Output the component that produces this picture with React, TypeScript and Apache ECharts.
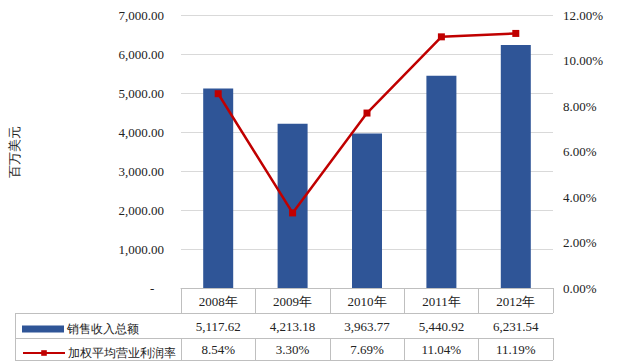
import React, { useEffect, useRef } from "react";
import * as echarts from "echarts";

const years = ["2008年", "2009年", "2010年", "2011年", "2012年"];
const revenue = [5117.62, 4213.18, 3963.77, 5440.92, 6231.54];
const margin = [8.54, 3.3, 7.69, 11.04, 11.19];
const revenueName = "销售收入总额";
const marginName = "加权平均营业利润率";
const leftUnit = "百万美元";

const FONT = "serif";
const fmtMoney = (v: number) =>
  v.toLocaleString("en-US", { minimumFractionDigits: 2, maximumFractionDigits: 2 });
const fmtPct = (v: number) => v.toFixed(2) + "%";

export default function App() {
  const ref = useRef<HTMLDivElement>(null);
  useEffect(() => {
    if (!ref.current) return;
    const chart = echarts.init(ref.current, undefined, { renderer: "svg" });
    const gridLeft = 180;
    const gridRight = 553;
    const gridBottomY = 288;
    const lineColor = "#BFBFBF";
    const legendText = { fontFamily: FONT, fontSize: 12, color: "#222", padding: [0, 0, 0, -2] };
    chart.setOption({
      animation: false,
      textStyle: { fontFamily: FONT },
      grid: { left: gridLeft, right: 617 - gridRight, top: 15, bottom: 364 - gridBottomY },
      legend: [
        {
          left: 17,
          top: 318,
          itemWidth: 42,
          itemHeight: 7,
          textStyle: legendText,
          data: [{ name: revenueName, icon: "rect" }],
        },
        {
          left: 17,
          top: 342,
          itemWidth: 42,
          itemHeight: 7,
          textStyle: legendText,
          data: [{ name: marginName }],
        },
      ],
      xAxis: [
        {
          type: "category",
          data: years,
          position: "bottom",
          axisLine: { show: true, lineStyle: { color: lineColor } },
          axisTick: { show: true, length: 25, lineStyle: { color: lineColor } },
          axisLabel: { margin: 7, fontSize: 13, color: "#222", fontFamily: FONT },
        },
        {
          type: "category",
          data: revenue.map(fmtMoney),
          position: "bottom",
          offset: 25,
          axisLine: { show: false },
          axisTick: { show: true, length: 25, lineStyle: { color: lineColor } },
          axisLabel: { margin: 7, fontSize: 13, color: "#222", fontFamily: FONT },
        },
        {
          type: "category",
          data: margin.map(fmtPct),
          position: "bottom",
          offset: 50,
          axisLine: { show: false },
          axisTick: { show: true, length: 22, lineStyle: { color: lineColor } },
          axisLabel: { margin: 5, fontSize: 13, color: "#222", fontFamily: FONT },
        },
      ],
      yAxis: [
        {
          type: "value",
          min: 0,
          max: 7000,
          interval: 1000,
          name: leftUnit,
          nameLocation: "middle",
          nameRotate: 90,
          nameGap: 160,
          nameTextStyle: { fontSize: 13, color: "#222", fontFamily: FONT },
          axisLine: { show: false },
          axisTick: { show: false },
          axisLabel: {
            margin: 17,
            fontSize: 13,
            color: "#222",
            fontFamily: FONT,
            formatter: (v: number) => (v === 0 ? "-   " : fmtMoney(v)),
          },
          splitLine: { show: true, lineStyle: { color: "#D9D9D9" } },
        },
        {
          type: "value",
          min: 0,
          max: 12,
          interval: 2,
          position: "right",
          axisLine: { show: false },
          axisTick: { show: false },
          axisLabel: {
            margin: 10,
            fontSize: 13,
            color: "#222",
            fontFamily: FONT,
            formatter: (v: number) => v.toFixed(2) + "%",
          },
          splitLine: { show: false },
        },
      ],
      series: [
        {
          name: revenueName,
          type: "bar",
          xAxisIndex: 0,
          yAxisIndex: 0,
          data: revenue,
          barWidth: 30,
          itemStyle: { color: "#2F5597" },
        },
        {
          name: marginName,
          type: "line",
          xAxisIndex: 0,
          yAxisIndex: 1,
          data: margin,
          symbol: "rect",
          symbolSize: 7,
          lineStyle: { color: "#C00000", width: 2.5 },
          itemStyle: { color: "#C00000" },
        },
      ],
      graphic: [
        { type: "line", shape: { x1: 15, y1: 313.5, x2: gridRight, y2: 313.5 }, style: { stroke: lineColor, lineWidth: 1 } },
        { type: "line", shape: { x1: 15, y1: 338.5, x2: gridRight, y2: 338.5 }, style: { stroke: lineColor, lineWidth: 1 } },
        { type: "line", shape: { x1: 15, y1: 360.5, x2: gridRight, y2: 360.5 }, style: { stroke: lineColor, lineWidth: 1 } },
        { type: "line", shape: { x1: 15.5, y1: 313, x2: 15.5, y2: 361 }, style: { stroke: lineColor, lineWidth: 1 } },
      ],
    });
    return () => chart.dispose();
  }, []);
  return <div ref={ref} style={{ width: 617, height: 364, position: "absolute", left: 0, top: 0 }} />;
}
